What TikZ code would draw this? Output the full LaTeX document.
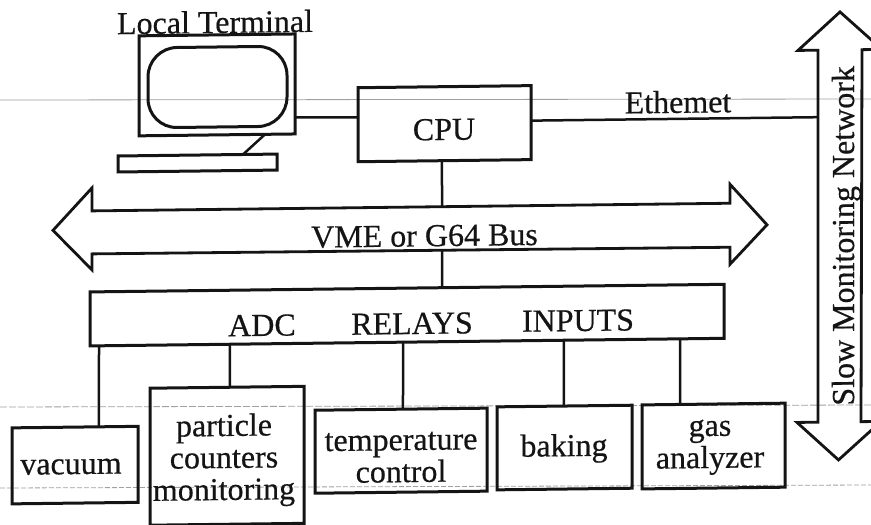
\documentclass[tikz,border=0pt]{standalone}
\usepackage{fontspec}
\setmainfont{Liberation Serif}[BoldFont={Liberation Serif},BoldFeatures={FakeBold=0.5}]
\usetikzlibrary{calc}
\tikzset{
  boxnode/.style={draw=ink,line width=3pt,inner sep=0pt,outer sep=0pt,minimum width=#1},
  conn/.style={draw=ink,line width=2.5pt},
  busline/.style={draw=ink,line width=2.8pt,line join=miter},
  txt/.style={font=\fontsize{32}{32}\selectfont\bfseries,text=ink,inner sep=0pt,anchor=base,align=center},
  scan/.style={draw=scangray,line width=0.8pt}
}
\definecolor{ink}{HTML}{141414}
\definecolor{scangray}{HTML}{A0A0A0}
\begin{document}
\begin{tikzpicture}[x=1pt,y=-1pt]
\useasboundingbox (0,0) rectangle (871,525);
\clip (0,0) rectangle (871,525);
\coordinate (s1a) at (0,100); \coordinate (s1b) at (871,99);
\coordinate (s2a) at (0,407); \coordinate (s2b) at (871,405);
\coordinate (s3a) at (0,488); \coordinate (s3b) at (871,485);
\draw[scan] (s1a) -- (s1b);
\draw[scan,dash pattern=on 7pt off 2pt] (s2a) -- (s2b);
\draw[scan,dash pattern=on 5pt off 2pt] (s3a) -- (s3b);
\begin{scope}[cm={1,0.012,0,1,(0,0)},every node/.append style={transform shape}]
% terminal
\node[boxnode=156pt,minimum height=100pt] (monitor) at (217,87.5) {};
\node[boxnode=139pt,minimum height=80pt,rounded corners=29pt] (screen) at (217.5,89.6) {};
\node[boxnode=159pt,minimum height=16pt] (keyboard) at (197.5,165.4) {};
\node[txt] (lterm) at (215,35.6) {Local Terminal};
% cpu
\node[boxnode=173pt,minimum height=74pt] (cpu) at (444.5,129) {};
\node[txt] (cpulabel) at (444,145.3) {CPU};
\node[txt] (ether) at (678,121) {Ethemet};
% io
\node[boxnode=634pt,minimum height=54pt] (io) at (407,320) {};
\node[txt] (adc) at (262,339) {ADC};
\node[txt] (relays) at (412,339) {RELAYS};
\node[txt] (inputs) at (578,338) {INPUTS};
% buses
\coordinate (b1) at (53,231); \coordinate (b2) at (92,189); \coordinate (b3) at (92,212);
\coordinate (b4) at (730,212); \coordinate (b5) at (730,193); \coordinate (b6) at (767,234);
\coordinate (b7) at (730,273); \coordinate (b8) at (730,256); \coordinate (b9) at (92,255);
\coordinate (b10) at (92,271);
\draw[busline] (b1) -- (b2) -- (b3) -- (b4) -- (b5) -- (b6) -- (b7) -- (b8) -- (b9) -- (b10) -- cycle;
\coordinate (busT) at (442,212); \coordinate (busB) at (442,256);
\node[txt] (vmebus) at (424.5,251.4) {VME or G64 Bus};
\coordinate (n1) at (840,22); \coordinate (n2) at (798,60); \coordinate (n3) at (818,60);
\coordinate (n4) at (818,432); \coordinate (n5) at (797,432); \coordinate (n6) at (838.5,470);
\coordinate (n7) at (881,432); \coordinate (n8) at (861,432); \coordinate (n9) at (862,60);
\coordinate (n10) at (882,60);
\draw[busline] (n1) -- (n2) -- (n3) -- (n4) -- (n5) -- (n6) -- (n7) -- (n8) -- (n9) -- (n10) -- cycle;
\coordinate (netP) at (818,127);
\node[txt,rotate=90] (slow) at (854,246) {Slow Monitoring Network};
% devices
\node[boxnode=126pt,minimum height=76pt] (vacuum) at (75,466) {};
\node[txt] (vacl) at (71,475) {vacuum};
\node[boxnode=154pt,minimum height=137pt] (particle) at (227,458.5) {};
\node[txt] (part) at (224,502.7) {particle\\counters\\monitoring};
\node[boxnode=172pt,minimum height=83pt] (temp) at (401,455.5) {};
\node[txt] (templ) at (401,487) {temperature\\control};
\node[boxnode=135pt,minimum height=83pt] (baking) at (564.5,454.3) {};
\node[txt] (bakl) at (564,463) {baking};
\node[boxnode=143pt,minimum height=84pt] (gas) at (713.5,454.6) {};
\node[txt] (gasl) at (710,476.5) {gas\\analyzer};
% connectors
\draw[conn] ($(monitor.north east)!.835!(monitor.south east)$) -- ($(cpu.north west)!.40!(cpu.south west)$);
\draw[conn] ($(monitor.south west)!.808!(monitor.south east)$) -- ($(keyboard.north west)!.786!(keyboard.north east)$);
\draw[conn] ($(cpu.north east)!.473!(cpu.south east)$) -- (netP);
\draw[conn] ($(cpu.south west)!.4855!(cpu.south east)$) -- (busT);
\draw[conn] (busB) -- ($(io.north west)!.5552!(io.north east)$);
\draw[conn] ($(io.south west)!.0142!(io.south east)$) -- ($(vacuum.north west)!.69!(vacuum.north east)$);
\draw[conn] ($(io.south west)!.2208!(io.south east)$) -- ($(particle.north west)!.519!(particle.north east)$);
\draw[conn] ($(io.south west)!.4937!(io.south east)$) -- ($(temp.north west)!.5116!(temp.north east)$);
\draw[conn] ($(io.south west)!.7476!(io.south east)$) -- ($(baking.north west)!.496!(baking.north east)$);
\draw[conn] ($(io.south west)!.9306!(io.south east)$) -- ($(gas.north west)!.266!(gas.north east)$);
\end{scope}
\end{tikzpicture}
\end{document}
